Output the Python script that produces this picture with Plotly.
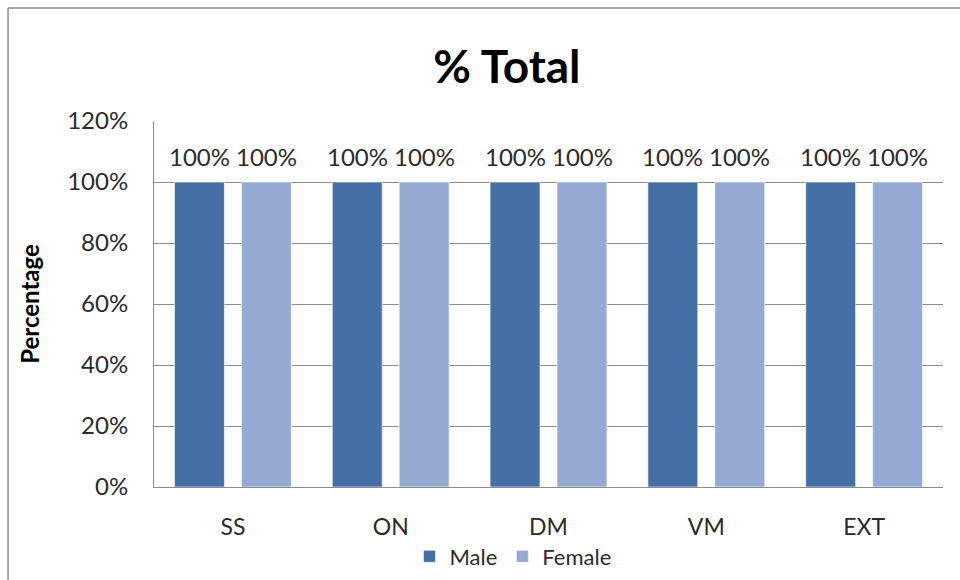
import plotly.graph_objects as go

categories = ["SS", "ON", "DM", "VM", "EXT"]
male = [1.0, 1.0, 1.0, 1.0, 1.0]
female = [1.0, 1.0, 1.0, 1.0, 1.0]
series_names = ["Male", "Female"]
y_ticks = [0, 0.2, 0.4, 0.6, 0.8, 1.0, 1.2]
y_tick_labels = ["0%", "20%", "40%", "60%", "80%", "100%", "120%"]

MALE_C = "#4470A6"
FEMALE_C = "#94AAD2"
FONT = "Lato"
TXT = "#2b2b2b"

fig = go.Figure()
series = [(series_names[0], male, MALE_C), (series_names[1], female, FEMALE_C)]
for name, vals, col in series:
    fig.add_trace(go.Bar(
        x=categories, y=vals, name=name,
        marker=dict(color=col, line=dict(color="rgba(255,255,255,0.6)", width=1)),
        cliponaxis=False,
    ))

# value labels above each bar (bar centres are offset +/- half a group slot)
slot_shift = 33.5
for k, (name, vals, col) in enumerate(series):
    for cat, v in zip(categories, vals):
        fig.add_annotation(x=cat, y=v, xref="x", yref="y", text=f"{v:.0%}",
                           showarrow=False, xanchor="center", yanchor="middle",
                           xshift=(-slot_shift if k == 0 else slot_shift), yshift=26,
                           font=dict(size=24, family=FONT, color=TXT))

fig.update_layout(
    width=960, height=580,
    margin=dict(l=154, r=17, t=121, b=93, autoexpand=False),
    paper_bgcolor="white", plot_bgcolor="white",
    font=dict(family=FONT, color=TXT, size=24),
    title=dict(text="<b>% Total</b>", x=0.528, xanchor="center", y=0.885, yanchor="middle",
               font=dict(size=46, family=FONT, color="black")),
    barmode="group", bargap=0.152, bargroupgap=0.254,
    showlegend=True,
    legend=dict(orientation="h", x=0.455, xanchor="center", y=-0.19, yanchor="middle",
                font=dict(size=22, family=FONT, color=TXT), itemwidth=30,
                bgcolor="rgba(0,0,0,0)", traceorder="normal", tracegroupgap=0),
)
fig.update_xaxes(showgrid=False, showline=True, linecolor="#8C8C8C", linewidth=1,
                 ticks="", tickfont=dict(size=23, family=FONT, color=TXT), ticklabelstandoff=19)
fig.update_yaxes(range=[0, 1.2], tickvals=y_ticks, ticktext=y_tick_labels,
                 showgrid=True, gridcolor="#8C8C8C", gridwidth=1,
                 showline=True, linecolor="#8C8C8C", linewidth=1, zeroline=False,
                 ticks="", tickfont=dict(size=24, family=FONT, color=TXT), ticklabelstandoff=20,
                 title=dict(text="<b>Percentage</b>", font=dict(size=24, family=FONT, color="black"), standoff=20))

# outer chart frame (left and top edges visible)
fig.add_shape(type="line", xref="paper", yref="paper", x0=-0.185, x1=-0.185, y0=1.309, y1=-0.3,
              line=dict(color="#8C8C8C", width=1.5))
fig.add_shape(type="line", xref="paper", yref="paper", x0=-0.185, x1=1.03, y0=1.309, y1=1.309,
              line=dict(color="#8C8C8C", width=1.5))

fig.write_html("out.html")
